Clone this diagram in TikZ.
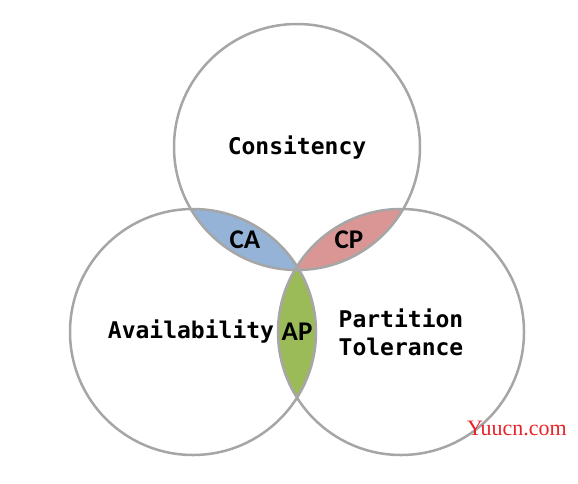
\documentclass[tikz,border=0pt]{standalone}
\usepackage{fontspec}
\newfontfamily\monofont{DejaVu Sans Mono}
\newfontfamily\lensfont{Carlito}
\newfontfamily\markfont{Liberation Serif}
\usepackage{tikz}
\usetikzlibrary{calc}

\definecolor{ringgray}{HTML}{A6A6A6}
\definecolor{cablue}{HTML}{95B3D7}
\definecolor{cpred}{HTML}{DA9694}
\definecolor{apgreen}{HTML}{9BBB59}
\definecolor{markred}{HTML}{E8232A}

\begin{document}
\begin{tikzpicture}[x=1pt, y=-1pt,
  ring/.style={draw=ringgray, line width=2.5pt},
  setlabel/.style={font=\monofont\bfseries\fontsize{23}{28}\selectfont, text=black},
  lenslabel/.style={font=\lensfont\bfseries\fontsize{27}{30}\selectfont, text=black}]
  \useasboundingbox (0,0) rectangle (578,483);
  \def\rad{123}
  % ---- centres ----
  \coordinate (top) at (297,147);
  \coordinate (left) at (193,332);
  \coordinate (right) at (401,332);

  % ---- lenses ----
  \begin{scope}
    \clip (top) circle (\rad);
    \fill[cablue] (left) circle (\rad);
    \fill[cpred] (right) circle (\rad);
  \end{scope}
  \begin{scope}
    \clip (left) circle (\rad);
    \fill[apgreen] (right) circle (\rad);
  \end{scope}

  % ---- rings ----
  \foreach \c in {top,left,right}
    \draw[ring] (\c) circle (\rad);

  % ---- labels ----
  \node[setlabel] (cons) at (297,148) {Consitency};
  \node[setlabel] (avail) at (191,332) {Availability};
  \node[setlabel, align=left] (part) at (401,332) {Partition\\Tolerance};
  \node[lenslabel] (ca) at (245,240) {CA};
  \node[lenslabel] (cp) at (349,240) {CP};
  \node[lenslabel] (ap) at (297,332) {AP};

  % watermark
  \node[font=\markfont\fontsize{22}{24}\selectfont, text=markred] (mark) at (517,428) {Yuucn.com};
\end{tikzpicture}
\end{document}
